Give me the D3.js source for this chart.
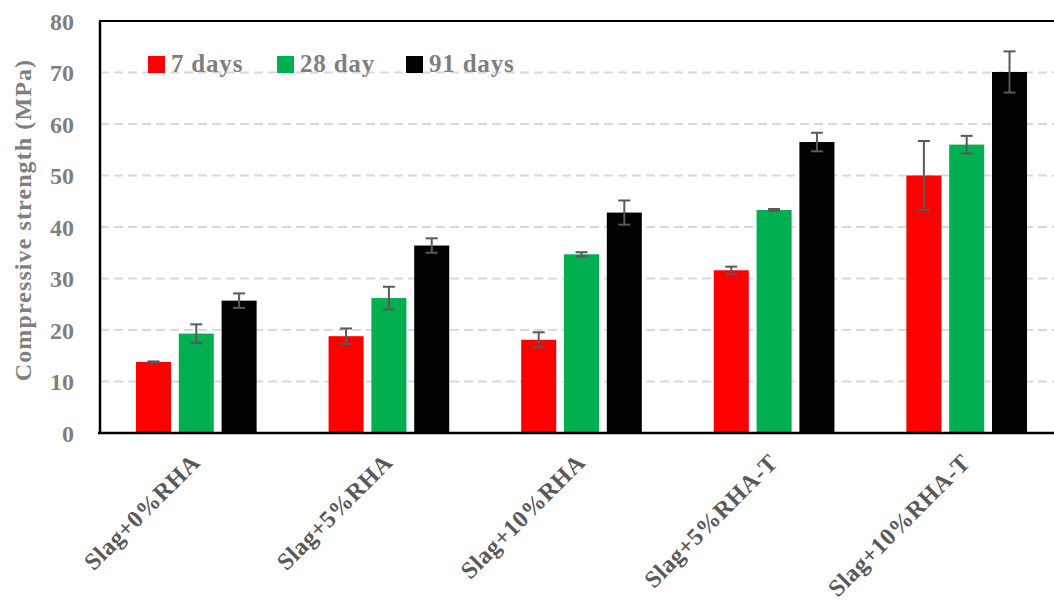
<!DOCTYPE html>
<html>
<head>
<meta charset="utf-8">
<script src="https://cdn.jsdelivr.net/npm/d3@7"></script>
<style>
  html, body { margin: 0; padding: 0; background: #fff; }
  svg { display: block; }
  text { font-family: "Liberation Serif", "Times New Roman", serif; font-weight: bold; }
</style>
</head>
<body>
<svg id="chart" width="1054" height="605"></svg>
<script>
// Mixes and curing ages
const categories = ["Slag+0%RHA", "Slag+5%RHA", "Slag+10%RHA", "Slag+5%RHA-T", "Slag+10%RHA-T"];
const seriesNames = ["7 days", "28 day", "91 days"];
const seriesColors = ["#ff0000", "#00b050", "#000000"];

// Mean compressive strength (MPa)
const days7  = [13.8, 18.8, 18.1, 31.6, 50.0];
const days28 = [19.3, 26.2, 34.7, 43.3, 56.0];
const days91 = [25.7, 36.4, 42.8, 56.5, 70.1];

// Standard deviation (MPa)
const err7  = [0.1, 1.5, 1.45, 0.7, 6.7];
const err28 = [1.8, 2.2, 0.4, 0.2, 1.7];
const err91 = [1.4, 1.4, 2.35, 1.8, 4.0];

const yTicks = [0, 10, 20, 30, 40, 50, 60, 70, 80];

const values = [days7, days28, days91];
const errors = [err7, err28, err91];

const svg = d3.select("#chart");

const plot = { left: 100, right: 1063, top: 21, bottom: 433 };

const y = d3.scaleLinear().domain([0, 80]).range([plot.bottom, plot.top]);
const x0 = d3.scaleBand().domain(categories).range([plot.left, plot.right]).paddingInner(0).paddingOuter(0);
const x1 = d3.scaleBand().domain(seriesNames).range([0, x0.bandwidth()]).paddingInner(0.182).paddingOuter(0.84);

// Dashed horizontal gridlines
svg.append("g")
  .selectAll("line")
  .data(yTicks.filter(t => t > 0 && t < 80))
  .join("line")
  .attr("x1", plot.left).attr("x2", 1054)
  .attr("y1", d => y(d)).attr("y2", d => y(d))
  .attr("stroke", "#d9d9d9").attr("stroke-width", 2)
  .attr("stroke-dasharray", "9,5");

// Y axis tick labels
const yAxis = d3.axisLeft(y).tickValues(yTicks).tickSize(0).tickPadding(26).tickFormat(d3.format("d"));
const yg = svg.append("g").attr("transform", `translate(${plot.left},0)`).call(yAxis);
yg.select(".domain").remove();
yg.selectAll("text")
  .attr("fill", "#7f7f7f")
  .style("font-size", "24px")
  .attr("dy", "0.34em");

// Bars
const rows = categories.map((c, i) => ({ cat: c, items: seriesNames.map((s, j) => ({ s, j, v: values[j][i], e: errors[j][i] })) }));

const groups = svg.append("g").selectAll("g")
  .data(rows)
  .join("g")
  .attr("transform", d => `translate(${x0(d.cat)},0)`);

groups.selectAll("rect")
  .data(d => d.items)
  .join("rect")
  .attr("x", d => x1(d.s))
  .attr("width", x1.bandwidth())
  .attr("y", d => y(d.v))
  .attr("height", d => y(0) - y(d.v))
  .attr("fill", d => seriesColors[d.j]);

// Error bars
const eb = groups.selectAll("g.err")
  .data(d => d.items)
  .join("g")
  .attr("class", "err")
  .attr("stroke", "#595959")
  .attr("stroke-width", 2);

const cx = d => x1(d.s) + x1.bandwidth() / 2;
eb.append("line")
  .attr("x1", cx).attr("x2", cx)
  .attr("y1", d => y(d.v + d.e)).attr("y2", d => y(d.v - d.e));
eb.append("line")
  .attr("x1", d => cx(d) - 6).attr("x2", d => cx(d) + 6)
  .attr("y1", d => y(d.v + d.e)).attr("y2", d => y(d.v + d.e));
eb.append("line")
  .attr("x1", d => cx(d) - 6).attr("x2", d => cx(d) + 6)
  .attr("y1", d => y(d.v - d.e)).attr("y2", d => y(d.v - d.e));

// Frame: left, top and bottom lines
svg.append("line").attr("x1", plot.left).attr("x2", plot.left).attr("y1", plot.top).attr("y2", plot.bottom + 1)
  .attr("stroke", "#000").attr("stroke-width", 2.5);
svg.append("line").attr("x1", plot.left - 1).attr("x2", 1054).attr("y1", plot.top).attr("y2", plot.top)
  .attr("stroke", "#000").attr("stroke-width", 2);
svg.append("line").attr("x1", plot.left - 2).attr("x2", 1054).attr("y1", plot.bottom).attr("y2", plot.bottom)
  .attr("stroke", "#000").attr("stroke-width", 2.5);

// Category labels, rotated
svg.append("g").selectAll("text")
  .data(categories)
  .join("text")
  .attr("transform", d => `translate(${x0(d) + x0.bandwidth() / 2 + 5},${plot.bottom + 31}) rotate(-45)`)
  .attr("text-anchor", "end")
  .attr("fill", "#595959")
  .style("font-size", "24px")
  .style("letter-spacing", "0.5px")
  .text(d => d);

// Y axis title
svg.append("text")
  .attr("transform", `translate(31,220) rotate(-90)`)
  .attr("text-anchor", "middle")
  .attr("fill", "#7f7f7f")
  .style("font-size", "24px")
  .style("letter-spacing", "1.1px")
  .text("Compressive strength (MPa)");

// Legend
const legendX = [148, 277, 406];
const lg = svg.append("g").selectAll("g")
  .data(seriesNames)
  .join("g")
  .attr("transform", (d, i) => `translate(${legendX[i]},56)`);
lg.append("rect").attr("width", 17).attr("height", 17).attr("fill", (d, i) => seriesColors[i]);
lg.append("text")
  .attr("x", 23).attr("y", 16)
  .attr("fill", "#7f7f7f")
  .style("font-size", "25px")
  .style("letter-spacing", "0.8px")
  .text(d => d);
</script>
</body>
</html>
